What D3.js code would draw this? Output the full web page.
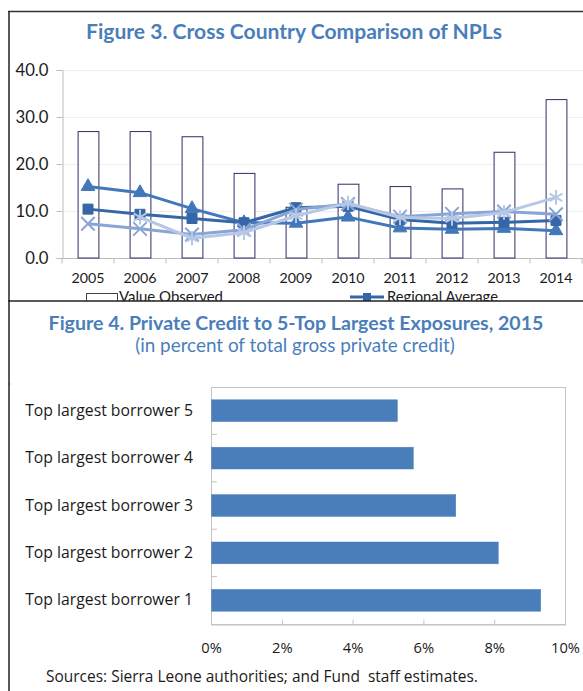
<!DOCTYPE html>
<html><head><meta charset="utf-8">
<script src="https://cdn.jsdelivr.net/npm/d3@7"></script>
<style>
html,body{margin:0;padding:0;background:#fff;}
svg{display:block;}
</style></head>
<body>
<svg id="c" width="583" height="691"></svg>
<script>
// ---------- Figure 3 data ----------
const years = ['2005','2006','2007','2008','2009','2010','2011','2012','2013','2014'];
const valueObserved   = [26.9, 26.9, 25.8, 18.0, 10.8, 15.7, 15.2, 14.7, 22.5, 33.7];
const seriesTriangle  = [15.2, 13.9, 10.5, 7.5, 7.4, 8.7, 6.4, 6.1, 6.3, 5.8];
const regionalAverage = [10.4, 9.3, 8.4, 7.5, 10.7, 11.0, 8.2, 7.4, 7.6, 8.0];
const seriesCross     = [7.3, 6.2, 5.0, 6.0, 10.3, 11.5, 8.8, 9.4, 9.9, 9.3];
const seriesStar      = [null, 8.7, 4.2, 5.4, 9.0, 11.7, 8.6, 8.4, 9.7, 12.9];
const yTicks3 = [0, 10, 20, 30, 40];

// ---------- Figure 4 data ----------
const borrowers = ['Top largest borrower 5','Top largest borrower 4','Top largest borrower 3','Top largest borrower 2','Top largest borrower 1'];
const exposure  = [0.0525, 0.057, 0.069, 0.081, 0.093];
const xTicks4 = [0, 0.02, 0.04, 0.06, 0.08, 0.10];

const svg = d3.select('#c');
const TITLE_BLUE = '#4A7EBB';
const TXT = '#1a1a1a';

function fit(sel, target){
  const n = sel.node();
  const cur = parseFloat(sel.attr('font-size'));
  const w = n.getComputedTextLength();
  if (w > 0) sel.attr('font-size', (cur * target / w).toFixed(2));
  return parseFloat(sel.attr('font-size'));
}

// ---------- Frames ----------
svg.append('line').attr('x1',8).attr('x2',583).attr('y1',11.5).attr('y2',11.5).attr('stroke','#333').attr('stroke-width',1.5);
svg.append('line').attr('x1',9).attr('x2',9).attr('y1',11).attr('y2',691).attr('stroke','#222').attr('stroke-width',1.5);
svg.append('line').attr('x1',9).attr('x2',15).attr('y1',384).attr('y2',384).attr('stroke','#222').attr('stroke-width',1.2);

// ---------- Figure 3 ----------
const t3 = svg.append('text').attr('x',294).attr('y',39).attr('text-anchor','middle')
  .attr('font-family','Lato').attr('font-weight','bold').attr('font-size',18).attr('fill',TITLE_BLUE)
  .text('Figure 3. Cross Country Comparison of NPLs');
fit(t3, 416);

const x3 = d3.scaleBand().domain(years).range([62, 582]).padding(0);
const y3 = d3.scaleLinear().domain([0, 40]).range([258, 70]);

// gridlines
svg.append('g').selectAll('line').data(yTicks3.filter(d=>d>0)).join('line')
  .attr('x1',62).attr('x2',583).attr('y1',d=>y3(d)+0.5).attr('y2',d=>y3(d)+0.5)
  .attr('stroke','#eeeeee').attr('stroke-width',1);

// y axis
const yAx = svg.append('g').attr('transform','translate(62.5,0)')
  .call(d3.axisLeft(y3).tickValues(yTicks3).tickFormat(d3.format('.1f')).tickSize(6).tickPadding(8));
yAx.select('.domain').attr('stroke','#bcbcbc');
yAx.selectAll('.tick line').attr('stroke','#bcbcbc');
yAx.selectAll('text').attr('font-family','Lato').attr('font-size',14).attr('fill',TXT);
{
  const nodes = yAx.selectAll('.tick text').nodes();
  const s = fit(d3.select(nodes[nodes.length-1]), 33);
  yAx.selectAll('text').attr('font-size', s);
}

// x axis
const xAxG = svg.append('g').attr('transform','translate(0,258.5)');
xAxG.append('line').attr('x1',62).attr('x2',583).attr('y1',0).attr('y2',0).attr('stroke','#bcbcbc');
xAxG.selectAll('line.tk').data(years.concat(['end'])).join('line').attr('class','tk')
  .attr('x1',(d,i)=>62 + i*x3.step()).attr('x2',(d,i)=>62 + i*x3.step())
  .attr('y1',0).attr('y2',5).attr('stroke','#bcbcbc');
const yl = xAxG.selectAll('text').data(years).join('text')
  .attr('x',d=>x3(d)+x3.bandwidth()/2).attr('y',24).attr('text-anchor','middle')
  .attr('font-family','Lato').attr('font-size',14).attr('fill',TXT).text(d=>d);
{
  const s = fit(d3.select(yl.nodes()[0]), 33);
  yl.attr('font-size', s);
}

// bars
const bw = x3.bandwidth()*0.4;
svg.append('g').selectAll('rect').data(years).join('rect')
  .attr('x',d=>x3(d)+x3.bandwidth()/2-bw/2+0.5)
  .attr('y',(d,i)=>y3(valueObserved[i]))
  .attr('width',bw).attr('height',(d,i)=>y3(0)-y3(valueObserved[i]))
  .attr('fill','#fff').attr('stroke','#2e2e66').attr('stroke-width',1);

const cx = d => x3(d)+x3.bandwidth()/2;
function drawSeries(vals, color, symbol, size, strokeSym){
  const pts = years.map((d,i)=>({x:cx(d), v:vals[i]})).filter(p=>p.v!=null);
  const line = d3.line().x(p=>p.x).y(p=>y3(p.v));
  const g = svg.append('g');
  g.append('path').datum(pts).attr('d',line).attr('fill','none')
    .attr('stroke',color).attr('stroke-width',3).attr('stroke-linejoin','round');
  g.selectAll('path.m').data(pts).join('path').attr('class','m')
    .attr('transform',p=>`translate(${p.x},${y3(p.v)})`)
    .attr('d',d3.symbol().type(symbol).size(size))
    .attr('fill',strokeSym ? 'none' : color)
    .attr('stroke',color).attr('stroke-width',strokeSym ? 2 : 1);
}
drawSeries(seriesTriangle, '#4277BA', d3.symbolTriangle, 80, false);
drawSeries(regionalAverage, '#3566A8', d3.symbolSquare, 100, false);
drawSeries(seriesCross, '#89A5D6', d3.symbolTimes, 120, true);
drawSeries(seriesStar, '#B7C7E6', d3.symbolAsterisk, 150, true);

// legend (partially cut)
const lg = svg.append('g');
lg.append('rect').attr('x',86.5).attr('y',293.5).attr('width',31).attr('height',9)
  .attr('fill','#fff').attr('stroke','#444').attr('stroke-width',1);
const lt1 = lg.append('text').attr('x',119).attr('y',302).attr('font-family','Lato').attr('font-size',14).attr('fill',TXT).text('Value Observed');
fit(lt1, 104);
lg.append('line').attr('x1',350).attr('x2',384).attr('y1',297).attr('y2',297).attr('stroke','#3566A8').attr('stroke-width',3);
lg.append('path').attr('transform','translate(367,297)').attr('d',d3.symbol().type(d3.symbolSquare).size(64)).attr('fill','#3566A8');
const lt2 = lg.append('text').attr('x',387).attr('y',302).attr('font-family','Lato').attr('font-size',14).attr('fill',TXT).text('Regional Average');
fit(lt2, 111);

// separator line and white area below
svg.append('rect').attr('x',10).attr('y',301).attr('width',573).attr('height',390).attr('fill','#fff');
svg.append('line').attr('x1',8).attr('x2',583).attr('y1',301).attr('y2',301).attr('stroke','#222').attr('stroke-width',1.5);

// ---------- Figure 4 ----------
const t4 = svg.append('text').attr('x',296).attr('y',330).attr('text-anchor','middle')
  .attr('font-family','Lato').attr('font-weight','bold').attr('font-size',18).attr('fill',TITLE_BLUE)
  .text('Figure 4. Private Credit to 5-Top Largest Exposures, 2015');
fit(t4, 495);
const st4 = svg.append('text').attr('x',295).attr('y',352).attr('text-anchor','middle')
  .attr('font-family','Lato').attr('font-size',16).attr('fill',TITLE_BLUE)
  .text('(in percent of total gross private credit)');
fit(st4, 320);

const x4 = d3.scaleLinear().domain([0, 0.10]).range([211, 565]);
const y4 = d3.scaleBand().domain(borrowers).range([387, 624]).paddingInner(0.54).paddingOuter(0.27);

// plot border
svg.append('rect').attr('x',211.5).attr('y',387.5).attr('width',x4(0.10)-x4(0)).attr('height',624-387)
  .attr('fill','none').attr('stroke','#c4c4c4').attr('stroke-width',1);

// category separators ticks
const step4 = (624-387)/borrowers.length;
svg.append('g').selectAll('line').data(d3.range(1, borrowers.length)).join('line')
  .attr('x1',211).attr('x2',217).attr('y1',k=>387+k*step4).attr('y2',k=>387+k*step4)
  .attr('stroke','#c4c4c4');

// x axis
const xAx4 = svg.append('g').attr('transform','translate(0,624.5)')
  .call(d3.axisBottom(x4).tickValues(xTicks4).tickFormat(d3.format('.0%')).tickSizeInner(-5).tickSizeOuter(0).tickPadding(18));
xAx4.select('.domain').attr('stroke','#c4c4c4');
xAx4.selectAll('.tick line').attr('stroke','#c4c4c4');
xAx4.selectAll('text').attr('font-family','Open Sans').attr('font-size',14).attr('fill',TXT);
{
  const last = d3.select(xAx4.selectAll('.tick text').nodes()[5]);
  const s = fit(last, 29);
  xAx4.selectAll('text').attr('font-size', s);
}

// bars
svg.append('g').selectAll('rect').data(borrowers).join('rect')
  .attr('x',x4(0)+0.5).attr('y',d=>y4(d))
  .attr('width',(d,i)=>x4(exposure[i])-x4(0)).attr('height',y4.bandwidth())
  .attr('fill','#4A7EBB').attr('stroke','#4F81BD').attr('stroke-width',0.5);

// category labels
const cl = svg.append('g').selectAll('text').data(borrowers).join('text')
  .attr('x',193).attr('y',d=>y4(d)+y4.bandwidth()/2+5).attr('text-anchor','end')
  .attr('font-family','Open Sans').attr('font-size',15).attr('fill',TXT).text(d=>d);
{
  const s = fit(d3.select(cl.nodes()[0]), 168);
  cl.attr('font-size', s);
}

// sources
const src = svg.append('text').attr('x',46).attr('y',682).attr('font-family','Open Sans').attr('font-size',14)
  .attr('fill',TXT).attr('xml:space','preserve').style('white-space','pre')
  .text('Sources: Sierra Leone authorities; and Fund  staff estimates.');
fit(src, 432);
</script>
</body></html>
